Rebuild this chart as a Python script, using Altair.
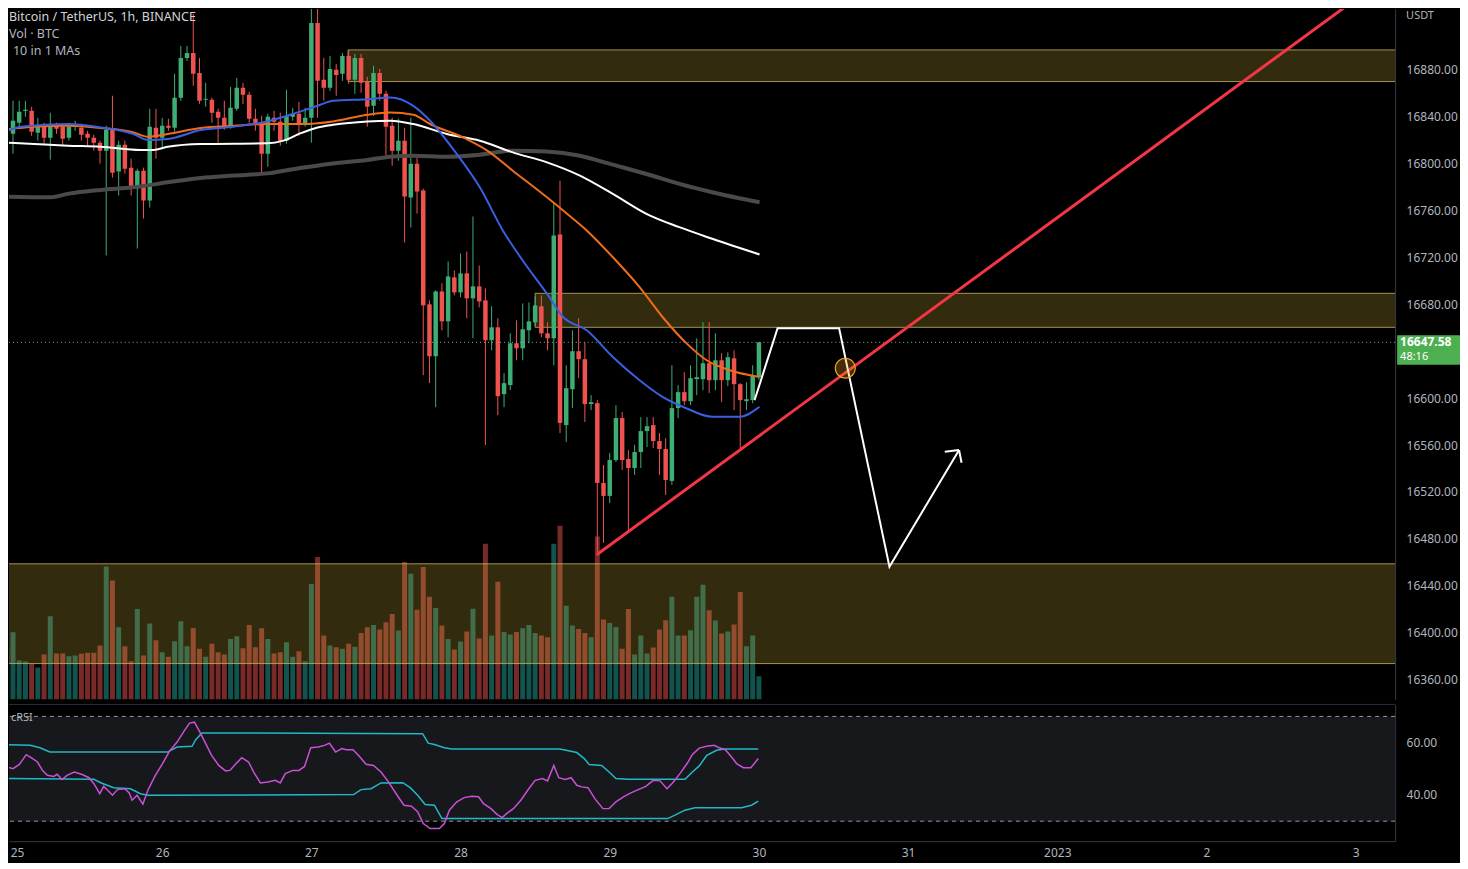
import altair as alt
import pandas as pd

# ---------------- data ----------------
hours = list(range(-2, 121))  # hours since 25 Dec 00:00

opens = [16840.8, 16823.0, 16825.5, 16834.9, 16845.0, 16845.1, 16826.4, 16831.5, 16822.1, 16832.3,
         16831.5, 16822.1, 16831.5, 16830.6, 16825.5, 16822.1, 16817.9, 16811.1, 16828.9, 16793.2,
         16816.2, 16796.6, 16778.7, 16794.0, 16768.5, 16830.6, 16822.1, 16832.3, 16830.6, 16856.2,
         16890.2, 16894.4, 16877.4, 16854.5, 16854.5, 16844.2, 16839.1, 16832.3, 16846.8, 16864.7,
         16858.7, 16838.3, 16834.0, 16808.5, 16839.1, 16835.7, 16819.6, 16840.0, 16842.5, 16833.2,
         16839.1, 16920.0, 16871.5, 16864.7, 16880.0, 16876.6, 16891.9, 16871.5, 16890.2, 16869.8,
         16849.3, 16877.4, 16859.6, 16832.3, 16811.1, 16819.6, 16771.1, 16800.0, 16777.0, 16680.0,
         16635.7, 16691.0, 16665.5, 16703.0, 16690.2, 16706.4, 16685.1, 16695.3, 16683.4, 16649.4,
         16660.4, 16603.4, 16611.1, 16646.8, 16642.5, 16657.9, 16664.7, 16678.3, 16655.3, 16651.0,
         16739.6, 16577.0, 16607.6, 16640.0, 16633.2, 16594.9, 16595.7, 16527.7, 16516.6, 16547.2,
         16583.0, 16548.1, 16540.4, 16554.0, 16571.9, 16577.0, 16563.4, 16556.6, 16529.4, 16591.5,
         16605.1, 16597.4, 16616.2, 16616.2, 16629.8, 16615.3, 16632.3, 16615.3, 16634.0, 16611.9,
         16597.4, 16598.3, 16617.9]
highs = [16870.6, 16829.8, 16853.6, 16853.6, 16853.6, 16848.5, 16839.1, 16834.9, 16843.4, 16834.9,
         16833.2, 16834.9, 16836.6, 16834.0, 16828.1, 16824.7, 16819.6, 16832.3, 16857.9, 16819.6,
         16819.6, 16804.2, 16795.7, 16796.6, 16846.8, 16846.8, 16839.1, 16838.3, 16876.6, 16900.4,
         16900.4, 16927.6, 16890.2, 16868.9, 16856.2, 16846.8, 16853.6, 16865.5, 16873.2, 16868.9,
         16861.3, 16846.8, 16840.8, 16842.5, 16845.1, 16843.4, 16863.0, 16847.6, 16852.7, 16847.6,
         16943.0, 16943.0, 16890.2, 16891.9, 16885.1, 16894.4, 16896.2, 16893.6, 16893.6, 16874.0,
         16883.4, 16880.8, 16862.1, 16839.1, 16838.3, 16830.6, 16839.1, 16805.1, 16778.7, 16683.4,
         16691.9, 16697.9, 16716.6, 16708.9, 16723.4, 16725.1, 16754.9, 16713.2, 16693.6, 16678.3,
         16668.1, 16621.3, 16655.3, 16666.4, 16680.8, 16681.7, 16686.8, 16687.6, 16664.7, 16766.8,
         16785.5, 16628.1, 16657.9, 16668.1, 16647.7, 16602.5, 16598.3, 16543.0, 16553.2, 16594.0,
         16588.1, 16555.7, 16560.2, 16583.8, 16583.8, 16583.8, 16570.2, 16565.9, 16628.1, 16611.1,
         16622.1, 16628.1, 16651.0, 16664.7, 16664.7, 16655.3, 16638.3, 16639.1, 16640.8, 16612.8,
         16613.6, 16628.1, 16648.0]
lows = [16817.9, 16821.3, 16808.5, 16831.5, 16840.0, 16823.8, 16819.6, 16817.0, 16803.4, 16825.5,
        16815.3, 16819.6, 16828.1, 16819.6, 16815.3, 16811.1, 16800.0, 16721.7, 16788.1, 16772.8,
        16791.5, 16772.8, 16727.6, 16753.2, 16762.5, 16804.2, 16813.6, 16828.1, 16827.2, 16853.6,
        16887.6, 16866.4, 16851.0, 16848.5, 16834.9, 16817.9, 16828.9, 16829.8, 16845.1, 16851.0,
        16834.9, 16828.1, 16791.5, 16797.4, 16828.1, 16815.3, 16817.0, 16836.6, 16823.8, 16831.5,
        16817.9, 16839.1, 16853.6, 16862.1, 16857.9, 16870.6, 16868.1, 16859.6, 16860.4, 16831.5,
        16840.8, 16853.6, 16806.8, 16798.3, 16802.5, 16732.7, 16745.5, 16757.4, 16619.6, 16612.8,
        16592.3, 16657.9, 16651.9, 16687.6, 16685.9, 16668.1, 16651.0, 16677.4, 16560.0, 16640.8,
        16585.5, 16592.3, 16606.8, 16632.3, 16632.3, 16646.8, 16661.3, 16651.9, 16640.8, 16628.1,
        16570.2, 16562.6, 16591.5, 16617.0, 16579.6, 16589.8, 16468.1, 16476.6, 16510.6, 16545.5,
        16538.7, 16487.7, 16534.5, 16540.4, 16558.3, 16557.4, 16534.5, 16517.4, 16526.0, 16583.0,
        16594.0, 16594.0, 16602.5, 16606.8, 16604.3, 16606.8, 16596.6, 16610.2, 16589.8, 16557.4,
        16589.8, 16595.7, 16615.3]
closes = [16822.1, 16827.2, 16836.6, 16844.2, 16846.0, 16827.2, 16832.3, 16822.1, 16831.5, 16829.8,
          16821.3, 16831.5, 16833.2, 16824.7, 16822.1, 16817.9, 16811.1, 16828.9, 16792.3, 16816.2,
          16795.7, 16778.7, 16794.0, 16768.5, 16831.5, 16822.1, 16832.3, 16830.6, 16856.2, 16890.2,
          16894.4, 16876.6, 16853.6, 16855.3, 16843.4, 16839.1, 16832.3, 16847.6, 16864.7, 16858.7,
          16838.3, 16834.0, 16808.5, 16840.0, 16835.7, 16819.6, 16840.8, 16842.5, 16833.2, 16839.1,
          16920.0, 16870.6, 16864.7, 16880.8, 16875.7, 16891.9, 16871.5, 16890.2, 16868.9, 16848.5,
          16877.4, 16859.6, 16831.5, 16811.1, 16819.6, 16771.9, 16800.0, 16776.2, 16679.1, 16635.7,
          16691.0, 16665.5, 16703.8, 16690.2, 16706.4, 16685.1, 16695.3, 16682.5, 16649.4, 16660.4,
          16601.7, 16612.8, 16646.8, 16642.5, 16658.7, 16665.5, 16679.1, 16655.3, 16651.0, 16738.7,
          16578.7, 16608.5, 16640.0, 16633.2, 16594.9, 16596.6, 16527.7, 16516.6, 16547.2, 16583.0,
          16547.2, 16540.4, 16554.0, 16571.9, 16576.1, 16563.4, 16556.6, 16530.2, 16591.5, 16605.1,
          16597.4, 16617.0, 16617.9, 16629.8, 16615.3, 16632.3, 16615.3, 16634.9, 16611.9, 16598.3,
          16599.1, 16619.6, 16647.58]
volumes = [5930, 5100, 6730, 3900, 3800, 3600, 3200, 4500, 8330, 4600,
           4600, 4330, 4400, 4570, 4670, 4670, 5400, 13330, 11930, 7230,
           5330, 3830, 9070, 4400, 7600, 5930, 4730, 4270, 5830, 7830,
           5330, 7170, 5070, 4270, 5570, 4730, 4500, 6070, 6330, 5130,
           7470, 5230, 7130, 6070, 4600, 4730, 5730, 4270, 4830, 3830,
           11570, 14270, 6400, 5400, 5230, 5070, 5570, 5270, 6670, 7230,
           7470, 7000, 7730, 8570, 6900, 13770, 12600, 9000, 13270, 10300,
           9170, 7400, 6070, 5000, 5800, 6800, 9100, 6100, 15600, 6400,
           11800, 6770, 6500, 6770, 7130, 7470, 6670, 6400, 6230, 15600,
           17400, 9400, 7400, 7070, 6670, 6230, 16330, 8000, 7670, 7270,
           5070, 9070, 4500, 6400, 4600, 5200, 7000, 7930, 10300, 6400,
           6400, 6930, 10300, 11500, 8930, 7900, 6600, 6800, 7500, 10770,
           5330, 6400, 2330]

# moving averages (hour, price)
blue_t = [-1.9, 1.3, 8.8, 14.1, 19.4, 21.7, 24.9, 30.2, 35.5, 40.9, 44.6, 49.0, 51.5, 57.0, 60.7, 64.4,
          67.1, 71.4, 75.1, 78.8, 82.0, 85.9, 88.5, 92.3, 96.5, 100.8, 104.5, 108.4, 112.5, 116.9, 120.1]
blue_v = [16825.8, 16831.5, 16833.8, 16830.9, 16825.3, 16820.2, 16821.0, 16828.7, 16831.5, 16836.0,
          16841.7, 16849.4, 16853.6, 16855.0, 16856.4, 16849.3, 16836.6, 16808.2, 16779.8, 16743.0,
          16717.4, 16689.1, 16669.2, 16657.9, 16635.1, 16615.3, 16601.1, 16591.2, 16584.1, 16584.1, 16592.6]
orange_t = [-1.9, 3.4, 8.8, 14.1, 19.4, 21.7, 24.9, 30.2, 35.5, 40.9, 46.2, 51.5, 57.0, 60.7, 64.4,
            67.1, 72.4, 76.3, 80.4, 85.9, 88.5, 92.3, 96.5, 100.8, 104.5, 108.4, 111.6, 115.3, 120.1]
orange_v = [16828.7, 16831.5, 16832.3, 16830.4, 16826.6, 16823.0, 16825.3, 16830.4, 16832.3, 16833.8,
            16833.8, 16836.0, 16841.7, 16843.6, 16841.7, 16833.8, 16822.4, 16811.1, 16794.0, 16771.3,
            16760.0, 16743.0, 16720.2, 16694.7, 16669.2, 16646.5, 16632.3, 16623.8, 16618.1]
white_t = [-1.9, 3.4, 8.8, 14.1, 20.5, 22.6, 24.9, 30.2, 40.9, 43.5, 46.2, 49.0, 51.5, 57.0, 60.7,
           64.4, 69.8, 75.1, 80.4, 85.9, 91.2, 96.5, 101.9, 107.2, 112.5, 120.1]
white_v = [16818.1, 16816.7, 16815.3, 16814.4, 16811.6, 16811.6, 16814.4, 16816.7, 16817.3, 16819.6,
           16825.8, 16830.9, 16833.2, 16836.0, 16836.6, 16833.8, 16825.3, 16819.6, 16809.6, 16801.1,
           16789.8, 16774.2, 16757.2, 16745.8, 16735.9, 16722.5]
gray_t = [-1.9, 6.1, 8.8, 14.1, 19.4, 24.9, 30.2, 35.5, 40.9, 46.2, 51.5, 57.0, 60.7, 64.4, 69.8,
          75.1, 80.4, 85.9, 91.2, 96.5, 101.9, 107.2, 112.5, 120.1]
gray_v = [16771.9, 16771.3, 16774.2, 16777.6, 16779.8, 16784.1, 16787.8, 16789.8, 16791.7, 16796.3,
          16800.2, 16803.1, 16805.9, 16806.8, 16805.9, 16807.6, 16811.1, 16810.4, 16806.8, 16799.1,
          16791.2, 16782.7, 16775.6, 16767.0]

# zones (hour start, hour end, low, high)
zone_start = [53.9, 84.0, -5.0]
zone_end = [230.0, 230.0, 230.0]
zone_low = [16870.0, 16660.4, 16373.6]
zone_high = [16897.0, 16689.4, 16458.7]

# drawings
trend_t = [93.9, 215.6]
trend_p = [16466.4, 16938.7]
path_t = [119.3, 123.0, 132.9, 141.0, 152.2]
path_p = [16598.3, 16659.6, 16659.6, 16456.2, 16555.7]
arrow_t0 = [152.2, 152.2]
arrow_p0 = [16555.7, 16555.7]
arrow_t1 = [149.9, 152.6]
arrow_p1 = [16554.3, 16544.9]
circle_t = [133.9]
circle_p = [16625.5]
last_price = 16647.58
countdown = "48:16"

# cRSI panel
rsi_t = [-1.97, -1.03, 0, 1.03, 2.13, 2.92, 3.94, 4.73, 5.52, 6.55, 7.1, 7.89, 8.68, 9.86, 11.04, 12.23,
         13.02, 13.96, 14.59, 15.23, 16.01, 16.8, 17.99, 18.7, 19.17, 19.96, 20.9, 21.7, 22.9, 24.06,
         25.2, 26.4, 27.6, 28.4, 29.2, 29.98, 31.0, 31.95, 33.1, 34.2, 34.9, 35.9, 36.8, 37.9, 38.7,
         39.8, 41.0, 42.2, 43.0, 43.8, 45.0, 46.0, 46.9, 47.9, 49.1, 50.1, 50.9, 51.9, 52.9, 53.6,
         54.7, 55.6, 56.8, 58.0, 59.2, 60.4, 61.8, 62.9, 64.1, 65.1, 66.0, 67.1, 68.6, 69.4, 70.2,
         71.4, 72.6, 73.8, 74.9, 75.7, 76.9, 77.9, 78.7, 79.4, 80.5, 81.7, 82.8, 84.0, 85.2, 86.0,
         87.0, 87.8, 88.8, 89.8, 90.7, 91.5, 92.5, 93.6, 94.9, 95.9, 97.0, 98.2, 99.4, 100.6, 101.8,
         103.0, 104.1, 105.2, 106.1, 107.3, 108.5, 109.3, 110.4, 111.6, 112.8, 113.6, 114.6, 115.6,
         116.4, 117.5, 118.7, 119.9]
rsi_v = [54.25, 50.7, 50.06, 51.7, 55.4, 54.25, 52.6, 49.4, 47.5, 47.1, 47.9, 45.9, 47.5, 48.8, 47.9, 46.6,
         44.3, 40.5, 43.3, 41.8, 39.9, 42.06, 42.4, 40.8, 38.0, 39.9, 36.5, 41.8, 47.5, 52.0,
         56.8, 60.2, 64.7, 67.46, 67.8, 64.4, 59.6, 55.1, 51.3, 49.2, 49.4, 52.0, 54.25, 52.6, 48.8,
         44.6, 45.0, 45.6, 44.6, 48.16, 49.4, 49.4, 50.9, 58.06, 58.3, 58.95, 59.8, 56.4, 57.7, 57.3,
         57.3, 55.1, 51.7, 51.3, 48.8, 45.0, 39.9, 36.1, 35.7, 33.6, 29.1, 27.2, 27.2, 29.1, 34.2,
         37.4, 39.0, 39.5, 39.3, 36.7, 34.8, 32.5, 31.4, 32.9, 34.8, 38.0, 41.8, 45.6, 46.3, 45.4,
         51.3, 46.6, 45.9, 46.6, 43.7, 43.1, 42.8, 38.6, 34.8, 34.8, 37.4, 39.3, 40.8, 42.06, 43.3,
         45.6, 45.4, 42.4, 44.6, 48.16, 52.2, 55.5, 57.9, 58.6, 58.95, 58.06, 57.3, 54.5,
         52.0, 50.4, 50.4, 53.9]
upper_t = [-1.97, 2.76, 4.34, 5.92, 24.85, 26.4, 28.8, 29.4, 30.4, 65.9, 66.8, 67.8, 69.4, 70.6, 88.0,
           90.7, 91.9, 92.7, 94.7, 95.9, 97.0, 99.0, 108.1, 109.3, 110.4, 111.6, 113.2, 114.4, 119.9]
upper_v = [59.3, 58.95, 58.06, 56.4, 56.4, 58.3, 58.6, 61.1, 63.7, 63.4, 59.8, 59.3, 58.06, 57.6, 57.6,
           56.2, 53.9, 51.6, 51.3, 48.8, 46.3, 46.0, 46.0, 48.8, 51.1, 55.1, 57.05, 57.6, 57.6]
lower_t = [-1.97, 13.0, 14.2, 16.2, 18.9, 20.5, 21.7, 54.8, 56.0, 57.6, 59.2, 62.7, 63.9, 65.1, 66.3,
           67.8, 69.0, 105.3, 106.5, 108.1, 109.7, 117.2, 118.8, 119.9]
lower_v = [46.3, 46.0, 44.6, 42.8, 42.4, 40.5, 39.9, 40.16, 42.06, 42.4, 44.6, 44.7, 42.8, 39.9, 36.4,
           36.1, 31.0, 31.0, 32.3, 34.2, 35.1, 35.1, 36.1, 37.7]
rsi_levels = [30, 70]

price_ticks = [16360, 16400, 16440, 16480, 16520, 16560, 16600, 16680, 16720, 16760, 16800, 16840, 16880]
rsi_ticks = [40, 60]
day_ticks = [0, 24, 48, 72, 96, 120, 144, 168, 192, 216]
day_labels = ["25", "26", "27", "28", "29", "30", "31", "2023", "2", "3"]

# ---------------- styling ----------------
FONT = "Noto Sans"
UP = "#3fae74"
DN = "#ef5350"
VUP = "#26a69a"
VDN = "#ef5350"
LINE = "#363a45"
TXT = "#b2b5be"

X_DOM = [-0.642, 222.35]
P_DOM = [16343.0, 16932.0]
VOL_DOM = [0, 69200]
RSI_DOM = [22.38, 74.57]
W = 1389

price_axis = alt.Axis(orient="right", values=price_ticks, format=".2f", tickSize=0, labelPadding=11,
                      labelColor=TXT, labelFontSize=12, labelFont=FONT, domainColor=LINE,
                      grid=False, title=None)
label_expr = "[" + ",".join(f"'{s}'" for s in day_labels) + "][round(datum.value / 24)]"
x_axis = alt.Axis(values=day_ticks, labelExpr=label_expr, tickSize=0, labelPadding=6,
                  domainColor=LINE, labelColor=TXT, labelFontSize=12, labelFont=FONT,
                  labelOffset={"condition": {"test": "datum.value === 0", "value": 4}, "value": 0},
                  grid=False, title=None, labelFlush=False)
rsi_axis = alt.Axis(orient="right", values=rsi_ticks, format=".2f", tickSize=0, labelPadding=11,
                    labelColor=TXT, labelFontSize=12, labelFont=FONT, domainColor=LINE,
                    grid=False, title=None)


def xs():
    return alt.Scale(domain=X_DOM, nice=False, zero=False)


def X(f):
    return alt.X(f, type="quantitative", scale=xs(), axis=None)


def XR(f):
    return alt.X(f, type="quantitative", scale=xs(), axis=x_axis)


def Y(f):
    return alt.Y(f, type="quantitative", scale=alt.Scale(domain=P_DOM, nice=False, zero=False),
                 axis=price_axis)


def R(f):
    return alt.Y(f, type="quantitative", scale=alt.Scale(domain=RSI_DOM, nice=False, zero=False),
                 axis=rsi_axis)


candles = pd.DataFrame({"t": hours, "open": opens, "high": highs, "low": lows,
                        "close": closes, "vol": volumes})
candles["b0"] = candles["t"] - 0.36
candles["b1"] = candles["t"] + 0.36
candles["v0"] = candles["t"] - 0.40
candles["v1"] = candles["t"] + 0.40

up_test = "datum.close >= datum.open"

vol_layer = alt.Chart(candles).mark_rect(clip=True, opacity=0.5).encode(
    x=X("v0"), x2="v1",
    y=alt.Y("vol:Q", scale=alt.Scale(domain=VOL_DOM, nice=False, zero=True), axis=None),
    y2=alt.datum(0),
    color=alt.condition(up_test, alt.value(VUP), alt.value(VDN)),
)

zones = pd.DataFrame({"t0": zone_start, "t1": zone_end, "p0": zone_low, "p1": zone_high})
zone_layer = alt.Chart(zones).mark_rect(
    clip=True, fill="#ffd940", fillOpacity=0.2, stroke="#c8b26a", strokeWidth=1, strokeOpacity=0.8
).encode(x=X("t0"), x2="t1", y=Y("p0"), y2="p1")

wicks = alt.Chart(candles).mark_rule(clip=True, strokeWidth=1).encode(
    x=X("t"), y=Y("low"), y2="high",
    color=alt.condition(up_test, alt.value(UP), alt.value(DN)),
)
bodies = alt.Chart(candles).mark_rect(clip=True).encode(
    x=X("b0"), x2="b1", y=Y("open"), y2="close",
    color=alt.condition(up_test, alt.value(UP), alt.value(DN)),
)


def ma(ts, vs, color, width):
    return alt.Chart(pd.DataFrame({"t": ts, "v": vs})).mark_line(
        clip=True, color=color, strokeWidth=width, interpolate="monotone"
    ).encode(x=X("t"), y=Y("v"))


gray_ma = ma(gray_t, gray_v, "#4a4a4a", 4)
white_ma = ma(white_t, white_v, "#ffffff", 2)
orange_ma = ma(orange_t, orange_v, "#ef6c1a", 2)
blue_ma = ma(blue_t, blue_v, "#3a5fe0", 2)

price_line = alt.Chart(pd.DataFrame({"p": [last_price]})).mark_rule(
    strokeDash=[1, 3], color="#86a8a3", strokeWidth=1
).encode(y=Y("p"))

trend = alt.Chart(pd.DataFrame({"t": trend_t, "p": trend_p})).mark_line(
    clip=True, color="#f23645", strokeWidth=3
).encode(x=X("t"), y=Y("p"))

path = alt.Chart(pd.DataFrame({"t": path_t, "p": path_p, "k": list(range(len(path_t)))})).mark_line(
    clip=True, color="#ffffff", strokeWidth=2
).encode(x=X("t"), y=Y("p"), order="k:Q")

arrow = alt.Chart(pd.DataFrame({"t0": arrow_t0, "p0": arrow_p0, "t1": arrow_t1, "p1": arrow_p1})).mark_rule(
    clip=True, color="#ffffff", strokeWidth=2
).encode(x=X("t0"), y=Y("p0"), x2="t1", y2="p1")

circle = alt.Chart(pd.DataFrame({"t": circle_t, "p": circle_p})).mark_point(
    shape="circle", size=400, filled=True, fill="#f59f1a", fillOpacity=0.28,
    stroke="#f5a623", strokeWidth=1.2, strokeOpacity=1, opacity=1
).encode(x=X("t"), y=Y("p"))

box_df = pd.DataFrame({"top": [last_price + 6], "bot": [last_price - 19], "p": [last_price],
                       "s": [f"{last_price:.2f}"], "c": [countdown]})
label_box = alt.Chart(box_df).mark_rect(color="#4caf50", clip=False).encode(
    x=alt.value(W + 2), x2=alt.value(W + 65), y=Y("top"), y2="bot")
label_txt = alt.Chart(box_df).mark_text(align="left", baseline="middle", font=FONT, fontSize=12,
                                        fontWeight="bold", color="#ffffff").encode(
    x=alt.value(W + 5), y=Y("p"), text="s:N")
label_cd = alt.Chart(box_df).mark_text(align="left", baseline="middle", font=FONT, fontSize=11,
                                       color="#ffffff", dy=15).encode(
    x=alt.value(W + 5), y=Y("p"), text="c:N")

titles = pd.DataFrame({
    "s": ["Bitcoin / TetherUS, 1h, BINANCE", "Vol · BTC", "10 in 1 MAs"],
    "px": [0, 0, 4], "py": [8, 25, 42],
    "col": ["#d1d4dc", TXT, TXT],
})
title_layer = alt.Chart(titles).mark_text(align="left", baseline="middle", font=FONT, fontSize=12.5).encode(
    x=alt.X("px:Q", scale=None), y=alt.Y("py:Q", scale=None), text="s:N",
    color=alt.Color("col:N", scale=None))
usdt = alt.Chart(pd.DataFrame({"s": ["USDT"]})).mark_text(
    align="left", baseline="top", font=FONT, fontSize=11, color=TXT
).encode(x=alt.value(W + 11), y=alt.value(1), text="s:N")

price_layers = alt.layer(
    zone_layer, wicks, bodies, gray_ma, white_ma, orange_ma, blue_ma,
    price_line, trend, path, arrow, circle, label_box, label_txt, label_cd, title_layer, usdt
)

top = alt.layer(vol_layer, price_layers).resolve_scale(y="independent").properties(width=W, height=692)

# ---------------- cRSI panel ----------------
bg = alt.Chart(pd.DataFrame({"t0": [X_DOM[0]], "t1": [X_DOM[1]], "a": [rsi_levels[0]], "b": [rsi_levels[1]]})
               ).mark_rect(color="#17181b").encode(x=XR("t0"), x2="t1", y=R("a"), y2="b")
levels = alt.Chart(pd.DataFrame({"v": rsi_levels})).mark_rule(
    color="#9598a1", strokeDash=[4, 4], strokeWidth=1).encode(y=R("v"))
sep = alt.Chart(pd.DataFrame({"v": [RSI_DOM[1]]})).mark_rule(color="#2a2e39", strokeWidth=1).encode(y=R("v"))

upper = alt.Chart(pd.DataFrame({"t": upper_t, "v": upper_v})).mark_line(
    clip=True, color="#22b8c8", strokeWidth=1.5).encode(x=XR("t"), y=R("v"))
lower = alt.Chart(pd.DataFrame({"t": lower_t, "v": lower_v})).mark_line(
    clip=True, color="#22b8c8", strokeWidth=1.5).encode(x=XR("t"), y=R("v"))
rsi_line = alt.Chart(pd.DataFrame({"t": rsi_t, "v": rsi_v})).mark_line(
    clip=True, color="#cc4fd8", strokeWidth=1.5).encode(x=XR("t"), y=R("v"))
rsi_label = alt.Chart(pd.DataFrame({"s": ["cRSI"]})).mark_text(
    align="left", baseline="middle", font=FONT, fontSize=11, color=TXT
).encode(x=alt.value(2), y=alt.value(14), text="s:N")

rsi = alt.layer(bg, levels, sep, upper, lower, rsi_line, rsi_label).properties(width=W, height=137)

chart = alt.vconcat(top, rsi, spacing=4).properties(
    padding={"left": 0, "top": 0, "right": 0, "bottom": 4}, background="#000000"
).configure_view(stroke=None)

chart.save("out.html", embed_options={"renderer": "svg", "actions": False})
